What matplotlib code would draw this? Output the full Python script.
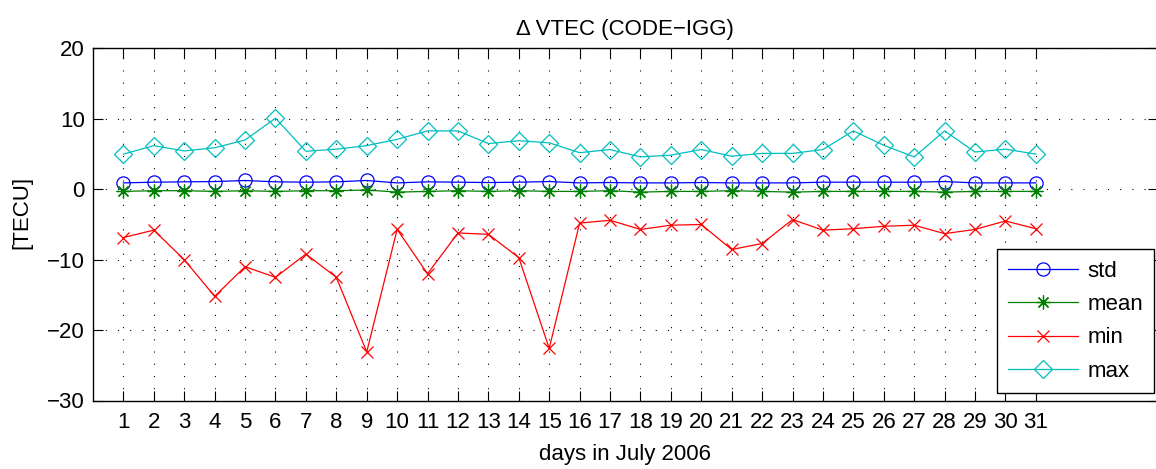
import matplotlib
matplotlib.use("Agg")
import matplotlib.pyplot as plt
import numpy as np

days = list(range(1, 32))
std_vals = [0.91, 1.01, 1.06, 1.10, 1.25, 1.06, 1.01, 1.06, 1.25, 0.91, 1.06, 1.01, 0.96, 1.01, 1.10, 0.91,
            0.96, 0.91, 0.91, 0.96, 0.91, 0.91, 0.91, 1.01, 1.01, 1.01, 1.01, 1.10, 0.91, 0.91, 0.91]
mean_vals = [-0.3, -0.2, -0.2, -0.3, -0.2, -0.3, -0.2, -0.2, -0.1, -0.4, -0.3, -0.2, -0.3, -0.2, -0.3, -0.3,
             -0.2, -0.4, -0.3, -0.3, -0.2, -0.3, -0.4, -0.3, -0.3, -0.3, -0.3, -0.4, -0.3, -0.3, -0.3]
min_vals = [-6.85, -5.8, -10.0, -15.2, -11.0, -12.5, -9.2, -12.5, -23.1, -5.7, -12.0, -6.2, -6.4, -9.7,
            -22.6, -4.8, -4.4, -5.7, -5.1, -5.0, -8.55, -7.7, -4.3, -5.8, -5.6, -5.25, -5.1, -6.3, -5.7,
            -4.5, -5.6]
max_vals = [5.0, 6.2, 5.45, 5.9, 7.0, 10.1, 5.4, 5.7, 6.2, 7.1, 8.3, 8.3, 6.5, 6.9, 6.6, 5.2, 5.65, 4.6,
            4.85, 5.65, 4.7, 5.1, 5.1, 5.65, 8.3, 6.25, 4.6, 8.3, 5.3, 5.7, 5.0]
series_names = ["std", "mean", "min", "max"]
yticks = [-30, -20, -10, 0, 10, 20]

plt.rcParams['font.family'] = ['Liberation Sans', 'DejaVu Sans']
FS = 16

fig = plt.figure(figsize=(11.56, 4.69), dpi=100)
ax = fig.add_axes([93 / 1156, 68.5 / 469, 1064.5 / 1156, 352 / 469])

lw = 0.9
ax.plot(days, std_vals, color=(0, 0, 1), lw=lw, marker='o', ms=9.5, mfc='none', mew=0.9, label=series_names[0], zorder=3)
ax.plot(days, mean_vals, color=(0, 0.5, 0), lw=lw, marker=(8, 2, 0), ms=10, mew=0.9, label=series_names[1], zorder=3)
ax.plot(days, min_vals, color=(1, 0, 0), lw=lw, marker='x', ms=8.5, mew=0.9, label=series_names[2], zorder=3)
ax.plot(days, max_vals, color=(0, 0.75, 0.75), lw=lw, marker='D', ms=9, mfc='none', mew=0.9, label=series_names[3], zorder=3)

ax.set_xlim(0, 35)
ax.set_ylim(-30, 20)
ax.set_xticks(days)
ax.set_yticks(yticks)
ax.set_yticklabels([str(v).replace('-', '\u2212') for v in yticks])
ax.tick_params(direction='in', top=True, right=True, length=7, width=0.8, labelsize=FS, pad=8)
ax.tick_params(axis='y', pad=6)
for s in ax.spines.values():
    s.set_linewidth(1.0)

ax.grid(True, color='black', linestyle=(0, (1, 10)), linewidth=0.8, zorder=1)
ax.set_axisbelow(True)

ax.set_title("\u0394 VTEC (CODE\u2212IGG)", fontsize=FS, pad=10)
ax.set_xlabel("days in July 2006", fontsize=FS, labelpad=8)
ax.set_ylabel("[TECU]", fontsize=FS)
ax.yaxis.set_label_coords(-0.057, 0.533)

leg = ax.legend(loc='lower right', bbox_to_anchor=(0.9967, 0.0213), fontsize=FS, frameon=True,
                fancybox=False, edgecolor='black', framealpha=1, handlelength=3.15, handletextpad=0.4,
                labelspacing=0.56, borderpad=0.5, borderaxespad=0)
leg.get_frame().set_linewidth(1.0)

fig.savefig("out.png", dpi=100)
